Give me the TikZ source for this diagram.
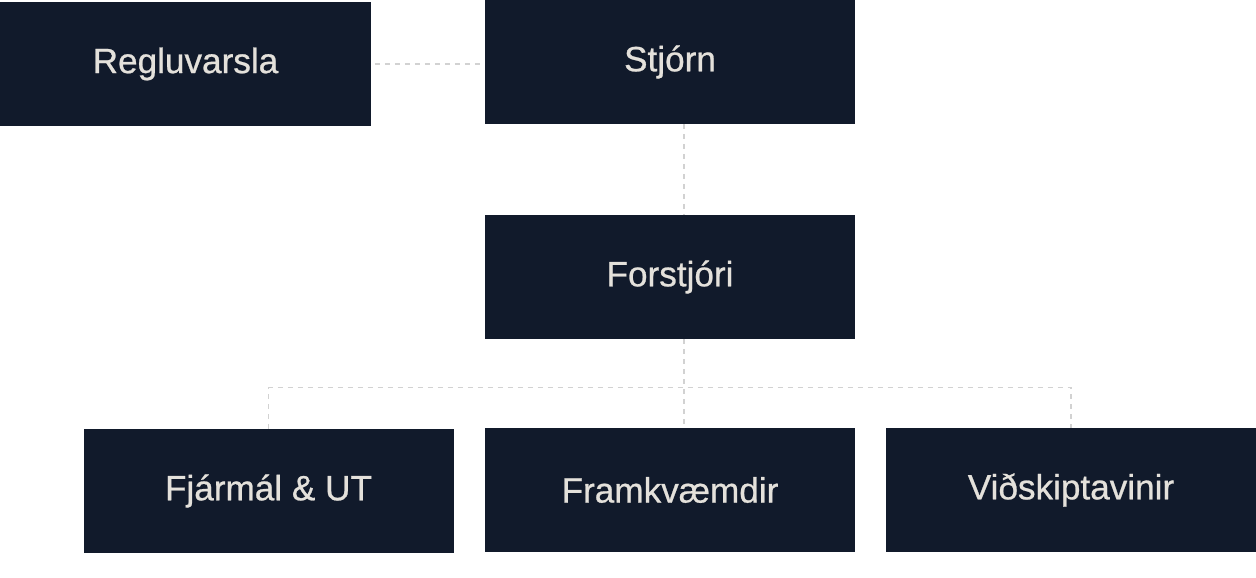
\documentclass[tikz,border=0pt]{standalone}
\usepackage{fontspec}
\setmainfont{Liberation Sans}
\newfontfamily\boxfont{Liberation Sans}[FakeBold=0.7]
\usetikzlibrary{positioning}
\definecolor{navy}{HTML}{111A2B}
\definecolor{sand}{HTML}{E4E1DB}
\definecolor{dashgrey}{HTML}{D2D2D2}
\begin{document}
\begin{tikzpicture}[node distance=4.3cm,on grid,
    unit/.style={fill=navy,text=sand,minimum width=7.4cm,minimum height=2.48cm,
                 font=\boxfont\fontsize{20}{24}\selectfont,inner sep=0pt},
    link/.style={dashgrey,line width=0.8pt,dash pattern=on 0.1cm off 0.1cm}]
\useasboundingbox (0,0) rectangle (25.12,-11.56);
\node[unit] (stjorn) at (13.4,-1.24) {Stjórn};
\node[unit] (regl) [left=9.69cm of stjorn,yshift=-0.04cm] {Regluvarsla};
\node[unit] (forstj) [below=of stjorn] {Forstjóri};
\node[unit] (framkv) [below=4.26cm of forstj] {Framkvæmdir};
\node[unit] (fjarmal) [left=8.03cm of framkv,yshift=-0.02cm] {Fjármál \& UT};
\node[unit] (vidsk) [right=8.02cm of framkv] {Viðskiptavinir};
% tengilinur
\coordinate (bus) at ([yshift=0.8cm]framkv.north);
\draw[link] ([xshift=0.08cm]regl.east) -- (regl.east -| stjorn.west);
\draw[link] ([xshift=0.28cm]stjorn.south) -- ([xshift=0.28cm]forstj.north);
\draw[link] ([xshift=0.28cm]forstj.south) -- ([xshift=0.28cm]framkv.north);
\draw[link] (fjarmal.north) |- (bus) -| (vidsk.north);
\end{tikzpicture}
\end{document}
